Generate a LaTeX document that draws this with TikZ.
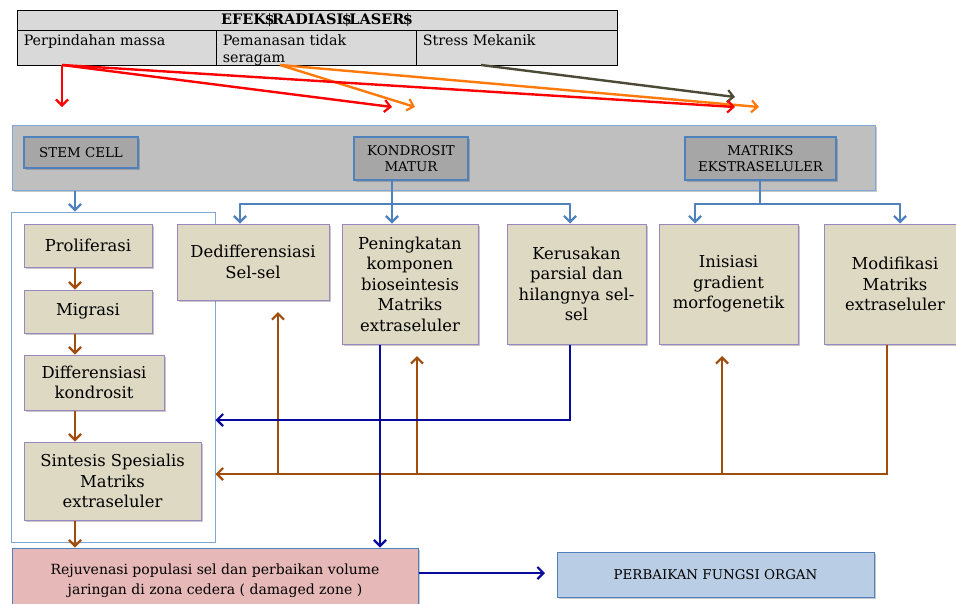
\documentclass[tikz,border=0pt]{standalone}
\usepackage{fontspec}
\setmainfont{DejaVu Serif}
\usetikzlibrary{arrows.meta,calc,shadows}
\definecolor{tblgray}{HTML}{D9D9D9}
\definecolor{bandgray}{HTML}{BFBFBF}
\definecolor{boxgray}{HTML}{A6A6A6}
\definecolor{tanc}{HTML}{DDD9C3}
\definecolor{purp}{HTML}{9C86C2}
\definecolor{bluec}{HTML}{4F81BD}
\definecolor{lblue}{HTML}{7FA6D6}
\definecolor{navy}{HTML}{0A0A9C}
\definecolor{brownc}{HTML}{A04D0E}
\definecolor{redc}{HTML}{FF0000}
\definecolor{orangec}{HTML}{FF7A0A}
\definecolor{olivec}{HTML}{4A4A36}
\definecolor{pinkc}{HTML}{E6B9B8}
\definecolor{paleblue}{HTML}{B9CDE5}
\tikzset{
  shad/.style={drop shadow={shadow xshift=1.5pt, shadow yshift=-1.5pt, opacity=0.3, fill=black!70}},
  tbl/.style={draw=black, fill=tblgray, line width=0.9pt, inner sep=0pt},
  tbltext/.style={anchor=north west, inner sep=0pt, align=left, font=\fontsize{14.3}{16.5}\selectfont},
  tanbox/.style={draw=purp, fill=tanc, line width=1pt, align=center, inner sep=1pt, shad, font=\fontsize{16.4}{20.5}\selectfont},
  graybox/.style={draw=bluec, fill=boxgray, line width=1.3pt, align=center, inner sep=1pt, shad, font=\fontsize{13.4}{16}\selectfont},
  tip/.style={-{Straight Barb[length=6pt,width=12pt,line width=2.2pt]}},
  bline/.style={draw=bluec, line width=2.8pt},
  barrow/.style={bline, tip},
  nline/.style={draw=navy, line width=2.6pt},
  narrow/.style={nline, tip},
  brline/.style={draw=brownc, line width=2.8pt},
  brarrow/.style={brline, tip},
  toparrow/.style={line width=2.4pt, tip},
}
\begin{document}
\begin{tikzpicture}[x=1pt,y=-1pt]
\useasboundingbox (0,0) rectangle (956,603);
\fill[white] (0,0) rectangle (956,603);

% ---------- table ----------
\node[tbl, minimum width=600, minimum height=20, font=\bfseries\fontsize{14.5}{16}\selectfont] (hdr) at (317,20.5)
  {EFEK\kern-1.5pt\$\kern-2.5pt RADIASI\kern-1.5pt\$\kern-2.5pt LASER\kern-1.5pt\$};
\node[tbl, minimum width=199, minimum height=35] (c1) at (116.5,47.5) {};
\node[tbl, minimum width=200, minimum height=35] (c2) at (316,47.5) {};
\node[tbl, minimum width=201, minimum height=35] (c3) at (516.5,47.5) {};
\node[tbltext] (t1) at ($(c1.north west)+(7,5)$) {Perpindahan massa};
\node[tbltext] (t2) at ($(c2.north west)+(7,5)$) {Pemanasan tidak\\seragam};
\node[tbltext] (t3) at ($(c3.north west)+(7,5)$) {Stress Mekanik};

% ---------- arrows from table ----------
\coordinate (rs) at (62,65);
\coordinate (os) at (280,65);
\coordinate (gs) at (481,65);
\coordinate (re1) at (62,107);
\coordinate (re2) at (392,107);
\coordinate (re3) at (735,107);
\coordinate (oe1) at (415,107);
\coordinate (oe2) at (759,107);
\coordinate (ge1) at (735,97);
\draw[toparrow, draw=olivec] (gs) -- (ge1);
\draw[toparrow, draw=orangec] (os) -- (oe1);
\draw[toparrow, draw=orangec] (os) -- (oe2);
\draw[toparrow, draw=redc] (rs) -- (re1);
\draw[toparrow, draw=redc] (rs) -- (re2);
\draw[toparrow, draw=redc] (rs) -- (re3);

% ---------- gray band ----------
\node[draw=lblue, fill=bandgray, line width=1pt, minimum width=863, minimum height=65, inner sep=0pt, shad] (band) at (443.5,157.5) {};
\node[graybox, minimum width=114, minimum height=31] (stem) at (81,152.5) {STEM CELL};
\node[graybox, minimum width=114, minimum height=43] (kond) at (411,158.5) {KONDROSIT\\MATUR};
\node[graybox, minimum width=151, minimum height=43] (matr) at (760.5,158.5) {MATRIKS\\EKSTRASELULER};

% ---------- left container ----------
\node[draw=lblue, fill=white, line width=1pt, minimum width=204, minimum height=330, inner sep=0pt] (leftbox) at (113,377) {};

% ---------- boxes ----------
\node[tanbox, minimum width=128, minimum height=43] (prolif) at (88,245.5) {Proliferasi};
\node[tanbox, minimum width=128, minimum height=43] (migr) at (88,311.5) {Migrasi};
\node[tanbox, minimum width=140, minimum height=55] (diff) at (94,382.5) {Differensiasi\\kondrosit};
\node[tanbox, minimum width=177, minimum height=78] (sint) at (112.5,481) {Sintesis Spesialis\\Matriks\\extraseluler};

\node[tanbox, minimum width=152, minimum height=76] (dedif) at (253,262) {Dedifferensiasi\\Sel-sel};
\node[tanbox, minimum width=136, minimum height=120] (ping) at (410,284) {Peningkatan\\komponen\\bioseintesis\\Matriks\\extraseluler};
\node[tanbox, minimum width=139, minimum height=120] (kerus) at (576.5,284) {Kerusakan\\parsial dan\\hilangnya sel-\\sel};
\node[tanbox, minimum width=139, minimum height=120] (inis) at (728.5,284) {Inisiasi\\gradient\\morfogenetik};
\node[tanbox, minimum width=142, minimum height=120] (modif) at (895,284) {Modifikasi\\Matriks\\extraseluler};

\node[draw=bluec, fill=pinkc, line width=1pt, minimum width=406, minimum height=66, inner sep=0pt, align=center, shad,
      font=\fontsize{14}{20}\selectfont] (rejuv) at (215,581)
  {Rejuvenasi populasi sel dan perbaikan volume\\jaringan di zona cedera ( damaged zone )};
\node[draw=bluec, fill=paleblue, line width=1pt, minimum width=317, minimum height=45, inner sep=0pt, shad,
      font=\fontsize{13.4}{16}\selectfont] (perb) at (715.5,574.5) {PERBAIKAN FUNGSI ORGAN};

% ---------- blue connectors ----------
\coordinate (colx) at (75,0);
\draw[barrow] (band.south -| colx) -- (leftbox.north -| colx);
\coordinate (kj) at (392,204);
\coordinate (kL) at (240,204);
\coordinate (kR) at (570,204);
\draw[bline] (kond.south -| kj) -- (kj);
\draw[bline, line cap=round] (kL) -- (kR);
\draw[barrow] (kL) -- (dedif.north -| kL);
\draw[barrow] (kj) -- (ping.north -| kj);
\draw[barrow] (kR) -- (kerus.north -| kR);
\coordinate (mj) at (760,204);
\coordinate (mL) at (695,204);
\coordinate (mR) at (900,204);
\draw[bline] (matr.south -| mj) -- (mj);
\draw[bline, line cap=round] (mL) -- (mR);
\draw[barrow] (mL) -- (inis.north -| mL);
\draw[barrow] (mR) -- (modif.north -| mR);

% ---------- left column brown ----------
\draw[brarrow] (prolif.south -| colx) -- (migr.north -| colx);
\draw[brarrow] (migr.south -| colx) -- (diff.north -| colx);
\draw[brarrow] (diff.south -| colx) -- (sint.north -| colx);
\draw[brarrow] (sint.south -| colx) -- (rejuv.north -| colx);

% ---------- brown feedback ----------
\coordinate (mb) at (887,474);
\draw[brarrow] (modif.south -| mb) -- (mb) -- (mb -| leftbox.east);
\coordinate (u1) at (278,474);
\coordinate (u1t) at (278,312);
\coordinate (u2) at (417,474);
\coordinate (u2t) at (417,356);
\coordinate (u3) at (722,474);
\coordinate (u3t) at (722,356);
\draw[brarrow] (u1) -- (u1t);
\draw[brarrow] (u2) -- (u2t);
\draw[brarrow] (u3) -- (u3t);

% ---------- navy ----------
\coordinate (nv) at (380,0);
\draw[narrow] (ping.south -| nv) -- (rejuv.north -| nv);
\coordinate (kb) at (570,420);
\draw[narrow] (kerus.south -| kb) -- (kb) -- (kb -| leftbox.east);
\coordinate (ry) at (0,573);
\coordinate (pa) at (545,573);
\draw[narrow] (rejuv.east |- ry) -- (pa);
\end{tikzpicture}
\end{document}
